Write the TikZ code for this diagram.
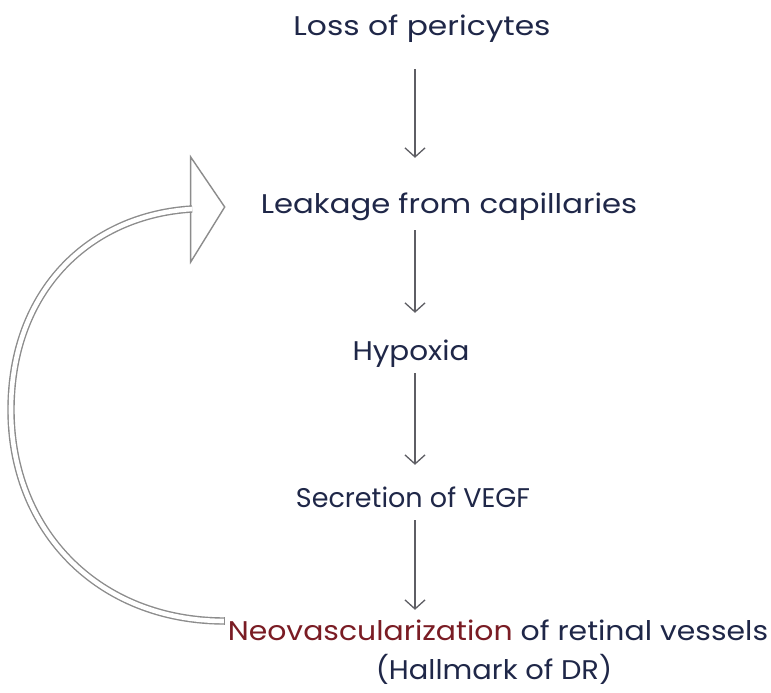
\documentclass[tikz,border=0pt]{standalone}
\usepackage{fontspec}
\setmainfont{Poppins}
\usetikzlibrary{arrows.meta}
\definecolor{ink}{HTML}{1F2748}
\definecolor{wine}{HTML}{7A1C24}
\definecolor{stem}{HTML}{5E5E64}
\definecolor{loopgray}{HTML}{8C8C8C}
% widen a line of text horizontally by a given factor
\newcommand{\widetext}[2]{\scalebox{#1}[1]{#2}}
\begin{document}
\begin{tikzpicture}[x=1pt,y=-1pt,
  txt/.style={inner sep=0pt, text=ink, anchor=base,
    font=\fontsize{27}{30}\selectfont, text height=20pt, text depth=7pt},
  flow/.style={draw=stem, line width=1.3pt,
    -{Straight Barb[length=9pt,width=20pt,line width=1.3pt]}},
  loopshaft/.style={draw=loopgray, line width=1.4pt, double=white,
    double distance=4.6pt},
  loophead/.style={draw=loopgray, fill=white, line width=1.4pt,
    line join=miter},
]
\useasboundingbox (0,0) rectangle (771,693);
\fill[white] (0,0) rectangle (771,693);

% the chain of events
\node[txt] (loss) at (422,36) {\widetext{1.16}{Loss of pericytes}};
\node[txt] (leak) at (449,213) {\widetext{1.137}{Leakage from capillaries}};
\node[txt] (hyp)  at (411,360) {\widetext{1.09}{Hypoxia}};
\node[txt] (vegf) at (413,507) {\widetext{1.0}{Secretion of VEGF}};
\node[txt] (neo)  at (498,640) {\widetext{1.107}{\textcolor{wine}{Neovascularization} of retinal vessels}};
\node[txt] (hall) at (494,679) {\widetext{1.07}{(Hallmark of DR)}};

% vertical arrows down the chain
\coordinate (ax) at (415,0);
\draw[flow, shorten <=26pt, shorten >=35pt] (ax |- loss.south) -- (ax |- leak.north);
\draw[flow, shorten <=10pt, shorten >=27pt] (ax |- leak.south) -- (ax |- hyp.north);
\draw[flow, shorten <=6pt,  shorten >=22pt] (ax |- hyp.south)  -- (ax |- vegf.north);
\draw[flow, shorten <=6pt,  shorten >=10pt] (ax |- vegf.south) -- (ax |- neo.north);

% feedback loop from neovascularization back to leakage
\coordinate (loopstart) at ([shift={(-3,-19)}]neo.base west);
\coordinate (tip) at ([shift={(-36,-6)}]leak.base west);
\coordinate (headbase) at ([shift={(-34,2)}]tip);
\coordinate (farleft) at (11,410);
\draw[loophead] (tip) -- ++(-34,-50) -- ++(0,105) -- cycle;
\draw[loopshaft] (loopstart)
  .. controls ++(-127,0) and (11,530) .. (farleft)
  .. controls (11,290) and (90,215) .. ([xshift=1.5pt]headbase);
\draw[draw=loopgray, line width=1.2pt] ([yshift=3.7pt]loopstart) -- ([yshift=-3.7pt]loopstart);
\end{tikzpicture}
\end{document}
